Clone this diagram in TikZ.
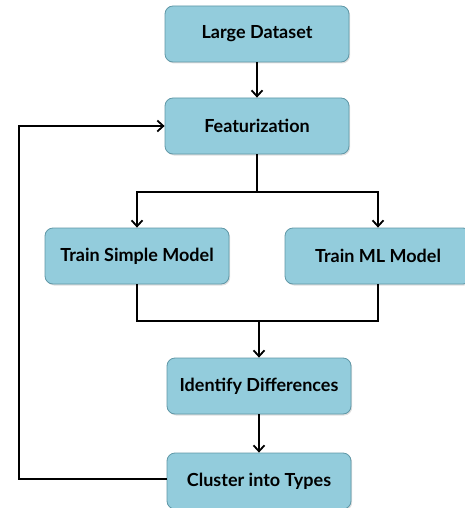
\documentclass[tikz,border=0pt]{standalone}
\usepackage{fontspec}
\setmainfont{Lato}
\usetikzlibrary{arrows.meta,shadows}
\definecolor{boxfill}{HTML}{93CCDC}
\definecolor{boxline}{HTML}{5F97A6}
\begin{document}
\begin{tikzpicture}[x=1pt,y=-1pt,
  stepbox/.style={draw=boxline, line width=0.8pt, fill=boxfill, rounded corners=8pt,
    minimum width=184pt, minimum height=56pt, font=\fontsize{18}{21}\selectfont\bfseries,
    drop shadow={shadow xshift=1.2pt, shadow yshift=-1.5pt, opacity=0.25}},
  conn/.style={line width=2pt, black},
  arr/.style={conn, -{Straight Barb[length=6pt,width=11pt,line width=1.8pt]}}]
\useasboundingbox (0,0) rectangle (465,508);
\node[stepbox] (ld) at (257,34) {Large Dataset};
\node[stepbox] (fe) at (257,126) {Featurization};
\node[stepbox] (ts) at (137,256) {Train Simple Model};
\node[stepbox, minimum width=186pt] (tm) at (378,256) {Train ML Model};
\node[stepbox] (id) at (259,386) {Identify Differences};
\node[stepbox] (ct) at (259,481) {Cluster into Types};
\coordinate (split) at (257,192);
\coordinate (join) at (259,321);
\coordinate (fbl) at (19,479);
\coordinate (fbt) at (19,126);
\draw[arr] (ld.south) -- (fe.north);
\draw[conn] (fe.south) -- (split);
\draw[arr] (split) -| (ts.north);
\draw[arr] (split) -| (tm.north);
\draw[conn] (ts.south) |- (join);
\draw[conn] (tm.south) |- (join);
\draw[arr] (join) -- (id.north);
\draw[arr] (id.south) -- (ct.north);
\draw[arr] (ct.west |- fbl) -- (fbl) -- (fbt) -- (fe.west);
\end{tikzpicture}
\end{document}
